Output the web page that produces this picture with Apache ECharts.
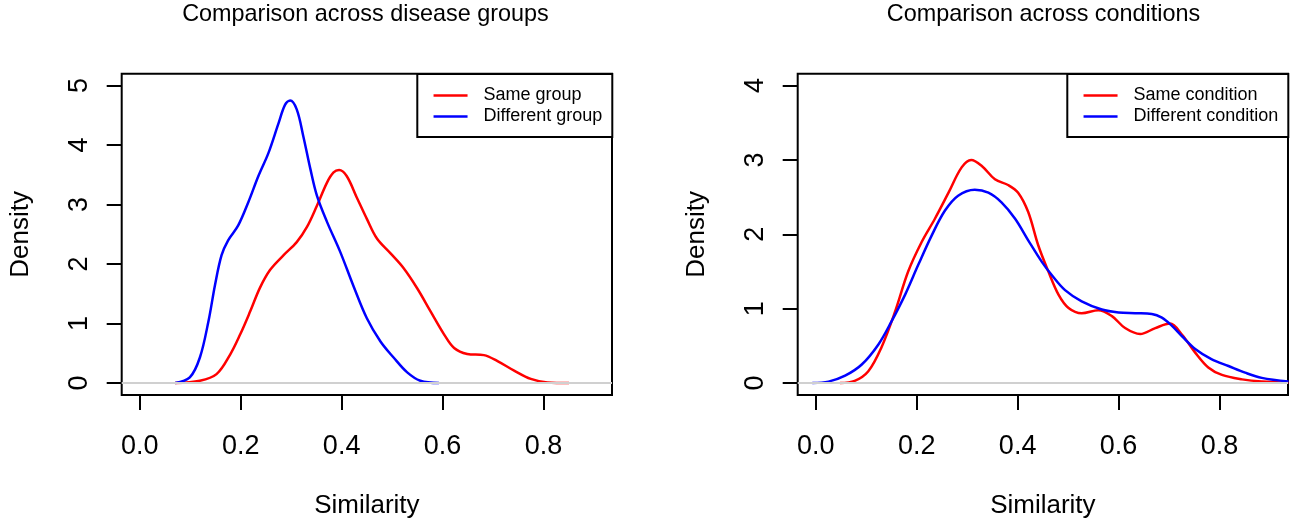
<!DOCTYPE html>
<html>
<head>
<meta charset="utf-8">
<script src="https://cdn.jsdelivr.net/npm/echarts@6/dist/echarts.min.js"></script>
<style>
    html, body { margin: 0; padding: 0; background: #fff; }
    #main { width: 1295px; height: 524px; }
</style>
</head>
<body>
<div id="main"></div>
<script>
// 左图：疾病组之间的比较
var sameGroupX = [0.07, 0.119, 0.152, 0.179, 0.199, 0.219, 0.238, 0.258, 0.285, 0.311, 0.331, 0.351, 0.371, 0.384, 0.395, 0.41, 0.43, 0.45, 0.47, 0.497, 0.523, 0.55, 0.576, 0.603, 0.623, 0.649, 0.682, 0.709, 0.742, 0.775, 0.808, 0.851];
var sameGroupY = [0, 0.04, 0.15, 0.48, 0.82, 1.21, 1.6, 1.9, 2.15, 2.37, 2.62, 2.98, 3.37, 3.54, 3.58, 3.48, 3.12, 2.76, 2.43, 2.18, 1.93, 1.59, 1.21, 0.82, 0.59, 0.49, 0.47, 0.37, 0.21, 0.07, 0.01, 0];
var diffGroupX = [0.07, 0.099, 0.119, 0.136, 0.149, 0.162, 0.175, 0.195, 0.215, 0.235, 0.255, 0.275, 0.288, 0.298, 0.311, 0.324, 0.338, 0.351, 0.371, 0.397, 0.424, 0.45, 0.477, 0.503, 0.53, 0.556, 0.593];
var diffGroupY = [0, 0.095, 0.43, 1.04, 1.65, 2.15, 2.4, 2.65, 3.04, 3.48, 3.87, 4.37, 4.68, 4.75, 4.6, 4.15, 3.6, 3.15, 2.71, 2.21, 1.62, 1.09, 0.7, 0.43, 0.18, 0.04, 0];

// 右图：条件之间的比较
var sameCondX = [0.048, 0.077, 0.104, 0.13, 0.157, 0.183, 0.21, 0.236, 0.263, 0.289, 0.308, 0.329, 0.355, 0.382, 0.401, 0.421, 0.441, 0.461, 0.481, 0.501, 0.527, 0.56, 0.587, 0.613, 0.643, 0.673, 0.702, 0.726, 0.752, 0.778, 0.805, 0.845, 0.884, 0.937];
var sameCondY = [0, 0.03, 0.16, 0.48, 0.96, 1.5, 1.9, 2.21, 2.56, 2.9, 3.0, 2.92, 2.74, 2.66, 2.56, 2.3, 1.85, 1.5, 1.19, 1.01, 0.94, 0.98, 0.9, 0.74, 0.66, 0.74, 0.8, 0.65, 0.41, 0.21, 0.11, 0.05, 0.02, 0.005];
var diffCondX = [-0.007, 0.025, 0.058, 0.091, 0.124, 0.15, 0.177, 0.203, 0.23, 0.256, 0.282, 0.315, 0.342, 0.368, 0.395, 0.421, 0.448, 0.468, 0.494, 0.527, 0.567, 0.6, 0.633, 0.666, 0.686, 0.706, 0.726, 0.752, 0.785, 0.818, 0.851, 0.884, 0.937];
var diffCondY = [0, 0.02, 0.1, 0.25, 0.52, 0.83, 1.19, 1.59, 1.99, 2.32, 2.52, 2.6, 2.56, 2.43, 2.21, 1.92, 1.63, 1.45, 1.25, 1.1, 0.99, 0.95, 0.94, 0.93, 0.88, 0.77, 0.63, 0.46, 0.32, 0.23, 0.14, 0.07, 0.02];

var xTicks = [0, 0.2, 0.4, 0.6, 0.8];
var yTicksLeft = [0, 1, 2, 3, 4, 5];
var yTicksRight = [0, 1, 2, 3, 4];

var FONT = "'Liberation Sans', Arial, Helvetica, sans-serif";

function zip(xs, ys) {
    var out = [];
    for (var i = 0; i < xs.length; i++) out.push([xs[i], ys[i]]);
    return out;
}

function xAxisOf(idx) {
    return {
        type: "value",
        gridIndex: idx,
        min: -0.036,
        max: 0.936,
        name: "Similarity",
        nameLocation: "middle",
        nameGap: 98,
        nameTextStyle: { fontFamily: FONT, fontSize: 26, color: "#000" },
        axisLine: { show: false, onZero: false },
        splitLine: { show: false },
        axisTick: { show: true, inside: false, length: 15, customValues: xTicks, lineStyle: { color: "#000", width: 2 } },
        axisLabel: {
            customValues: xTicks,
            margin: 38,
            fontFamily: FONT,
            fontSize: 27,
            color: "#000",
            formatter: function (v) { return v.toFixed(1); }
        }
    };
}

function yAxisOf(idx, ymax, ticks) {
    return {
        type: "value",
        gridIndex: idx,
        min: -ymax * 0.04,
        max: ymax * 1.04,
        name: "Density",
        nameLocation: "middle",
        nameGap: 88,
        nameTextStyle: { fontFamily: FONT, fontSize: 26, color: "#000" },
        axisLine: { show: false, onZero: false },
        splitLine: { show: false },
        axisTick: { show: true, inside: false, length: 15, customValues: ticks, lineStyle: { color: "#000", width: 2 } },
        axisLabel: {
            customValues: ticks,
            rotate: 90,
            margin: 29,
            fontFamily: FONT,
            fontSize: 27,
            color: "#000"
        }
    };
}

function lineOf(name, idx, data, color, withZero) {
    var s = {
        name: name,
        type: "line",
        xAxisIndex: idx,
        yAxisIndex: idx,
        data: data,
        symbol: "none",
        smooth: 0.35,
        lineStyle: { color: color, width: 2.5 },
        itemStyle: { color: color }
    };
    if (withZero) {
        //零线
        s.markLine = {
            silent: true,
            symbol: "none",
            label: { show: false },
            lineStyle: { color: "#d0d0d0", width: 2, type: "solid" },
            data: [{ yAxis: 0 }]
        };
    }
    return s;
}

function legendOf(left, names) {
    return {
        data: names,
        orient: "vertical",
        left: left,
        top: 74,
        itemWidth: 34,
        itemHeight: 14,
        itemGap: 0,
        padding: [11, 10, 10, 15],
        borderColor: "#000",
        borderWidth: 2,
        backgroundColor: "#fff",
        itemStyle: { opacity: 0 },
        lineStyle: { width: 2.5 },
        textStyle: { fontFamily: FONT, fontSize: 18, color: "#000", lineHeight: 21, padding: [0, 0, 0, 11] }
    };
}

var chart = echarts.init(document.getElementById("main"), null, { renderer: "canvas" });

var option = {
    animation: false,
    backgroundColor: "#fff",
    title: [{
        text: "Comparison across disease groups",
        left: 365.5,
        textAlign: "center",
        top: 3,
        padding: 0,
        textStyle: { fontFamily: FONT, fontSize: 23.4, fontWeight: "normal", color: "#000", lineHeight: 24 }
    }, {
        text: "Comparison across conditions",
        left: 1043.5,
        textAlign: "center",
        top: 3,
        padding: 0,
        textStyle: { fontFamily: FONT, fontSize: 23.4, fontWeight: "normal", color: "#000", lineHeight: 24 }
    }],
    legend: [
        legendOf(417.3, ["Same group", "Different group"]),
        legendOf(1067.3, ["Same condition", "Different condition"])
    ],
    grid: [
        { left: 121.7, top: 73.7, width: 490.3, height: 324, show: true, borderColor: "#000", borderWidth: 2, backgroundColor: "transparent" },
        { left: 797.7, top: 73.7, width: 490.3, height: 324, show: true, borderColor: "#000", borderWidth: 2, backgroundColor: "transparent" }
    ],
    xAxis: [xAxisOf(0), xAxisOf(1)],
    yAxis: [yAxisOf(0, 5, yTicksLeft), yAxisOf(1, 4, yTicksRight)],
    series: [
        lineOf("Same group", 0, zip(sameGroupX, sameGroupY), "#ff0000", true),
        lineOf("Different group", 0, zip(diffGroupX, diffGroupY), "#0000ff", false),
        lineOf("Same condition", 1, zip(sameCondX, sameCondY), "#ff0000", true),
        lineOf("Different condition", 1, zip(diffCondX, diffCondY), "#0000ff", false)
    ]
};

chart.setOption(option);
</script>
</body>
</html>
